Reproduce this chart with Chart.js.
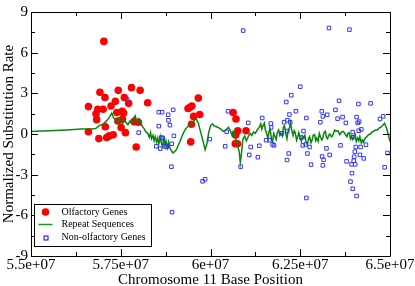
<!DOCTYPE html>
<html>
<head>
<meta charset="utf-8">
<script src="https://cdn.jsdelivr.net/npm/chart.js@4.4.0/dist/chart.umd.min.js"></script>
<style>
  html, body { margin: 0; padding: 0; background: #fff; }
  #wrap { width: 415px; height: 286px; }
</style>
</head>
<body>
<div id="wrap"><canvas id="chart" width="415" height="286"></canvas></div>
<script>
// axis ticks
const xTicks = [5.5e7, 5.75e7, 6e7, 6.25e7, 6.5e7];
const yTicks = [-9, -6, -3, 0, 3, 6, 9];

// olfactory genes (red dots)
const olfX = [5.660e7, 5.660e7, 5.681e7, 5.683e7, 5.686e7, 5.692e7, 5.689e7, 5.703e7, 5.701e7, 5.706e7,
  5.707e7, 5.711e7, 5.718e7, 5.729e7, 5.723e7, 5.735e7, 5.739e7, 5.743e7, 5.742e7, 5.751e7,
  5.754e7, 5.755e7, 5.758e7, 5.760e7, 5.763e7, 5.772e7, 5.780e7, 5.787e7, 5.793e7, 5.799e7,
  5.804e7, 5.825e7, 5.9375e7, 5.943e7, 5.948e7, 5.945e7, 5.947e7, 5.953e7, 5.966e7, 5.970e7,
  6.063e7, 6.071e7, 6.076e7, 6.069e7, 6.075e7, 6.099e7, 6.070e7];
const olfY = [2.02, 0.17, 1.49, 1.06, 1.83, 3.08, -0.34, 6.83, 1.83, 2.69,
  0.53, -0.26, -0.14, -0.05, 2.07, 2.41, 1.59, 3.22, 0.96, 0.48,
  1.68, 1.11, 1.54, 2.69, 0.10, 2.26, 3.42, 0.91, -0.96, 0.87,
  3.22, 2.31, 1.88, 1.97, 2.07, -0.58, 0.72, 1.30, 2.65, 1.44,
  1.59, 1.11, 0.24, -0.72, -0.72, 0.24, -0.07];

// non-olfactory genes (blue squares)
const nonX = [5.768e7, 5.800e7, 5.856e7, 5.865e7, 5.856e7, 5.860e7, 5.849e7, 5.863e7, 5.867e7, 5.873e7,
  5.878e7, 5.882e7, 5.883e7, 5.887e7, 5.892e7, 5.896e7, 5.898e7, 5.891e7, 5.893e7, 5.978e7,
  5.985e7, 5.998e7, 6.041e7, 6.045e7, 6.049e7, 6.084e7, 6.091e7, 6.105e7, 6.108e7, 6.112e7,
  6.132e7, 6.136e7, 6.144e7, 6.155e7, 6.164e7, 6.168e7, 6.169e7, 6.173e7, 6.177e7, 6.199e7,
  6.205e7, 6.211e7, 6.213e7, 6.214e7, 6.218e7, 6.214e7, 6.220e7, 6.222e7, 6.225e7, 6.238e7,
  6.250e7, 6.253e7, 6.259e7, 6.257e7, 6.265e7, 6.267e7, 6.267e7, 6.270e7, 6.276e7, 6.280e7,
  6.306e7, 6.310e7, 6.313e7, 6.311e7, 6.315e7, 6.313e7, 6.323e7, 6.325e7, 6.330e7, 6.332e7,
  6.348e7, 6.354e7, 6.358e7, 6.362e7, 6.368e7, 6.377e7, 6.379e7, 6.387e7, 6.390e7, 6.393e7,
  6.394e7, 6.396e7, 6.396e7, 6.398e7, 6.399e7, 6.400e7, 6.402e7, 6.403e7, 6.407e7, 6.405e7,
  6.407e7, 6.410e7, 6.412e7, 6.413e7, 6.414e7, 6.416e7, 6.418e7, 6.420e7, 6.427e7, 6.433e7,
  6.446e7, 6.472e7, 6.481e7, 6.485e7, 6.493e7];
const nonY = [2.57, 0.10, 1.61, 1.61, 0.58, -1.08, -0.91, -0.26, -0.31, -0.91,
  -0.96, 1.42, 1.01, 0.65, -0.72, 1.78, -0.14, -2.41, -5.77, -3.49,
  -3.34, -0.38, -0.91, 0.17, 1.68, -2.41, 7.63, 0.82, -1.54, -0.96,
  -1.71, -0.87, 1.18, -0.46, -0.46, 0.77, 0.48, -0.77, -0.84, 0.05,
  0.87, 2.36, -1.92, 1.01, -1.44, 0.22, 1.44, 0.87, 2.86, 1.68,
  3.49, -0.26, 0.22, -0.84, -0.77, 1.18, -4.72, -1.44, -0.96, -2.26,
  0.87, 1.68, 1.30, -1.66, -1.90, -2.31, -1.06, 1.42, 7.82, -1.54,
  1.78, 1.13, 2.45, -0.84, 1.25, 0.82, -2.02, 7.70, -3.51, -2.24,
  -2.89, -4.04, 0.14, -0.24, -1.97, -1.68, -1.30, -2.24, -4.57, -0.96,
  1.25, 0.82, 2.21, 0.24, 0.91, -1.54, -0.96, 0.34, -1.80, -0.79,
  2.26, 1.11, 1.30, -2.45, -1.40];

// repeat sequences (green line)
const repX = [5.50e7, 5.55e7, 5.60e7, 5.64e7, 5.67e7, 5.68e7, 5.69e7, 5.70e7, 5.71e7, 5.72e7,
  5.725e7, 5.73e7, 5.735e7, 5.74e7, 5.745e7, 5.75e7, 5.755e7, 5.76e7, 5.765e7, 5.77e7,
  5.775e7, 5.78e7, 5.785e7, 5.79e7, 5.795e7, 5.80e7, 5.805e7, 5.81e7, 5.815e7, 5.82e7,
  5.825e7, 5.83e7, 5.833e7, 5.836e7, 5.84e7, 5.843e7, 5.846e7, 5.85e7, 5.853e7, 5.856e7,
  5.86e7, 5.863e7, 5.866e7, 5.87e7, 5.873e7, 5.876e7, 5.88e7, 5.883e7, 5.886e7, 5.89e7,
  5.895e7, 5.90e7, 5.905e7, 5.91e7, 5.915e7, 5.92e7, 5.925e7, 5.93e7, 5.935e7, 5.94e7,
  5.945e7, 5.95e7, 5.955e7, 5.96e7, 5.963e7, 5.966e7, 5.97e7, 5.975e7, 5.98e7, 5.985e7,
  5.99e7, 5.995e7, 6.00e7, 6.005e7, 6.01e7, 6.02e7, 6.03e7, 6.035e7, 6.04e7, 6.045e7,
  6.05e7, 6.055e7, 6.06e7, 6.063e7, 6.066e7, 6.07e7, 6.075e7, 6.08e7, 6.083e7, 6.086e7,
  6.09e7, 6.095e7, 6.10e7, 6.105e7, 6.11e7, 6.115e7, 6.12e7, 6.125e7, 6.13e7, 6.135e7,
  6.14e7, 6.143e7, 6.146e7, 6.15e7, 6.153e7, 6.156e7, 6.16e7, 6.163e7, 6.166e7, 6.17e7,
  6.173e7, 6.176e7, 6.18e7, 6.183e7, 6.186e7, 6.19e7, 6.193e7, 6.196e7, 6.20e7, 6.203e7,
  6.206e7, 6.21e7, 6.213e7, 6.216e7, 6.22e7, 6.223e7, 6.226e7, 6.23e7, 6.233e7, 6.236e7,
  6.24e7, 6.243e7, 6.246e7, 6.25e7, 6.253e7, 6.256e7, 6.26e7, 6.263e7, 6.266e7, 6.27e7,
  6.273e7, 6.276e7, 6.28e7, 6.283e7, 6.286e7, 6.29e7, 6.293e7, 6.296e7, 6.30e7, 6.303e7,
  6.306e7, 6.31e7, 6.313e7, 6.316e7, 6.32e7, 6.323e7, 6.326e7, 6.33e7, 6.333e7, 6.336e7,
  6.34e7, 6.343e7, 6.346e7, 6.35e7, 6.355e7, 6.36e7, 6.365e7, 6.37e7, 6.375e7, 6.38e7,
  6.383e7, 6.386e7, 6.39e7, 6.393e7, 6.396e7, 6.40e7, 6.403e7, 6.406e7, 6.41e7, 6.413e7,
  6.416e7, 6.42e7, 6.423e7, 6.426e7, 6.43e7, 6.435e7, 6.44e7, 6.445e7, 6.45e7, 6.455e7,
  6.46e7, 6.465e7, 6.47e7, 6.475e7, 6.48e7, 6.485e7, 6.49e7, 6.495e7, 6.50e7];
const repY = [0.19, 0.24, 0.30, 0.36, 0.37, 0.40, 0.62, 0.72, 0.95, 1.30,
  1.55, 1.20, 1.05, 0.85, 1.15, 0.95, 0.78, 1.02, 0.85, 0.68,
  0.95, 0.80, 1.15, 1.35, 0.90, 1.15, 0.95, 0.55, 0.40, 0.15,
  0.05, -0.25, 0.10, -0.35, -0.10, -0.50, -0.20, -0.60, -0.30, -0.75,
  -0.20, -0.65, -0.90, -0.35, -0.80, -0.50, -1.00, -0.60, -0.95, -1.20,
  -1.40, -1.30, -1.15, -0.85, -0.55, -0.20, 0.10, 0.35, 0.50, 0.60,
  0.75, 0.85, 1.00, 1.15, 0.95, 0.80, 0.40, -0.10, -0.60, -1.15,
  -0.70, 0.10, 0.60, 0.75, 0.60, 0.50, 0.35, 0.20, 0.25, 0.35,
  0.50, 0.25, -0.10, 0.20, 0.10, -0.30, -0.80, -1.30, -2.10, -1.50,
  -0.40, -0.15, -0.50, -0.20, 0.05, -0.10, 0.15, 0.05, 0.30, 0.45,
  0.75, 0.35, 0.60, 0.80, 0.30, 0.10, -0.35, 0.20, 0.35, -0.40,
  -0.55, 0.05, -0.20, -0.40, 0.10, 0.30, -0.10, 0.05, -0.15, 0.50,
  0.60, 0.00, -0.35, 0.20, 0.45, 0.85, 0.30, -0.10, 0.25, 0.10,
  -0.45, -0.20, 0.10, -0.30, -0.55, -0.15, -0.30, -0.10, -0.60, -0.80,
  -0.35, -0.20, -0.65, -0.45, -0.10, -0.05, -0.50, -0.30, -0.55, 0.05,
  -0.20, -0.45, -0.30, 0.10, 0.20, -0.25, -0.35, -0.05, 0.00, -0.20,
  -0.15, 0.10, 0.30, 0.20, 0.25, -0.05, 0.15, 0.20, 0.00, -0.20,
  0.05, 0.10, -0.35, -0.15, -0.40, -0.20, -0.05, -0.55, -0.30, -0.50,
  -0.20, -0.65, -0.45, -0.60, -0.35, -0.20, -0.05, 0.00, 0.15, 0.20,
  0.30, 0.30, 0.45, 0.50, 0.65, 0.80, 0.45, 0.00, -0.55];

const FONT = "'Liberation Serif', 'Times New Roman', serif";

const toPts = (xs, ys) => xs.map((x, i) => ({ x: x, y: ys[i] }));

// format like 5.75e+07
const expLabel = v => v.toExponential().replace(/e\+(\d)$/, 'e+0$1');

// frame, inward major/minor ticks on all four sides, and the legend box
const framePlugin = {
  id: 'frame',
  afterDatasetsDraw(chart) {
    const { ctx, chartArea: a, scales } = chart;
    const xs = scales.x, ys = scales.y;
    ctx.save();
    ctx.strokeStyle = '#000';
    ctx.lineWidth = 1;
    ctx.beginPath();
    ctx.rect(Math.round(a.left) + 0.5, Math.round(a.top) + 0.5,
      Math.round(a.right - a.left), Math.round(a.bottom - a.top));
    ctx.stroke();

    ctx.beginPath();
    for (let v = 5.5e7; v <= 6.5e7 + 1; v += 1.25e6) {
      const major = xTicks.some(t => Math.abs(t - v) < 1);
      const len = major ? 7 : 4;
      const px = Math.round(xs.getPixelForValue(v)) + 0.5;
      ctx.moveTo(px, a.bottom); ctx.lineTo(px, a.bottom - len);
      ctx.moveTo(px, a.top); ctx.lineTo(px, a.top + len);
    }
    for (let v = -9; v <= 9; v += 1.5) {
      const major = yTicks.includes(v);
      const len = major ? 7 : 4;
      const py = Math.round(ys.getPixelForValue(v)) + 0.5;
      ctx.moveTo(a.left, py); ctx.lineTo(a.left + len, py);
      ctx.moveTo(a.right, py); ctx.lineTo(a.right - len, py);
    }
    ctx.stroke();

    // legend
    const bx = Math.round(a.left) + 3.5, bw = 117;
    const by = Math.round(a.bottom) - 51.5, bh = 42;
    ctx.fillStyle = '#fff';
    ctx.fillRect(bx, by, bw, bh);
    ctx.strokeStyle = '#000';
    ctx.strokeRect(bx, by, bw, bh);
    const rows = [by + 7.5, by + 20, by + 33];
    const sx = bx + 11;
    ctx.fillStyle = '#ff0000';
    ctx.beginPath(); ctx.arc(sx, rows[0], 3.8, 0, Math.PI * 2); ctx.fill();
    ctx.strokeStyle = '#1a9a1a'; ctx.lineWidth = 1.5;
    ctx.beginPath(); ctx.moveTo(sx - 7, rows[1]); ctx.lineTo(sx + 7, rows[1]); ctx.stroke();
    ctx.strokeStyle = '#0000ff'; ctx.lineWidth = 1;
    ctx.strokeRect(sx - 1.5, rows[2] - 1.5, 4, 4);
    ctx.fillStyle = '#000';
    ctx.font = '10px ' + FONT;
    ctx.textBaseline = 'middle';
    const names = chart.data.datasets.slice().reverse().map(d => d.label);
    names.forEach((n, i) => ctx.fillText(n, bx + 27, rows[i]));
    ctx.restore();
  }
};

new Chart(document.getElementById('chart'), {
  type: 'scatter',
  data: {
    datasets: [
      {
        label: 'Non-olfactory Genes',
        data: toPts(nonX, nonY),
        pointStyle: 'rect',
        pointRadius: 2.5,
        borderColor: '#3535ff',
        borderWidth: 1,
        backgroundColor: 'rgba(0,0,0,0)'
      },
      {
        label: 'Repeat Sequences',
        type: 'line',
        data: toPts(repX, repY),
        borderColor: '#0a850a',
        borderWidth: 1.5,
        pointRadius: 0,
        tension: 0,
        fill: false
      },
      {
        label: 'Olfactory Genes',
        data: toPts(olfX, olfY),
        pointStyle: 'circle',
        pointRadius: 3.8,
        borderWidth: 0,
        backgroundColor: '#ff0000'
      }
    ]
  },
  options: {
    responsive: false,
    animation: false,
    events: [],
    layout: { padding: { top: 6, right: 25, left: 0, bottom: 0 } },
    plugins: { legend: { display: false }, tooltip: { enabled: false } },
    scales: {
      x: {
        type: 'linear',
        min: 5.5e7,
        max: 6.5e7,
        afterBuildTicks: s => { s.ticks = xTicks.map(v => ({ value: v })); },
        afterFit: s => { s.height = 30; },
        grid: { display: false, drawTicks: false },
        border: { display: false },
        ticks: {
          padding: 0,
          maxRotation: 0,
          autoSkip: false,
          color: '#000',
          font: { family: FONT, size: 15 },
          callback: v => expLabel(v)
        },
        title: {
          display: true,
          text: 'Chromosome 11 Base Position',
          color: '#000',
          font: { family: FONT, size: 15 },
          padding: { top: 0, bottom: -3 }
        }
      },
      y: {
        min: -9,
        max: 9,
        afterBuildTicks: s => { s.ticks = yTicks.map(v => ({ value: v })); },
        afterFit: s => { s.width = 31; },
        grid: { display: false, drawTicks: false },
        border: { display: false },
        ticks: {
          padding: 3,
          color: '#000',
          font: { family: FONT, size: 15 }
        },
        title: {
          display: true,
          text: 'Normalized Substitution Rate',
          color: '#000',
          font: { family: FONT, size: 15 },
          padding: { top: 0, bottom: 0 }
        }
      }
    }
  },
  plugins: [framePlugin]
});
</script>
</body>
</html>
